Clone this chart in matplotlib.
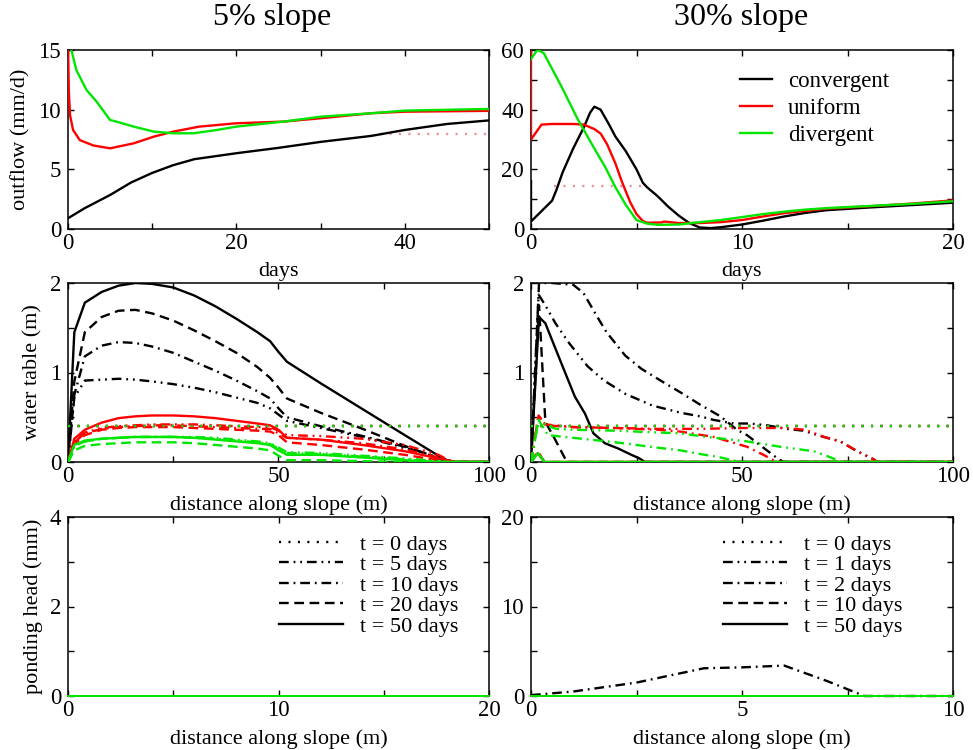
import matplotlib
matplotlib.use("Agg")
import matplotlib.pyplot as plt
from matplotlib.ticker import MultipleLocator

# ---- outflow time series ----
# 5% slope
t5_conv = [0, 2, 5, 7.5, 10, 12.5, 15, 20, 25, 30, 36, 40, 45, 50]
q5_conv = [0.9, 1.75, 2.85, 3.9, 4.7, 5.35, 5.85, 6.35, 6.8, 7.3, 7.8, 8.3, 8.8, 9.1]
t5_unif = [0, 0.1, 0.25, 0.6, 1.4, 3, 5, 7.8, 10.2, 12.5, 15.6, 20, 25.6, 30, 36, 40, 50]
q5_unif = [15.5, 11.5, 9.5, 8.3, 7.45, 7.0, 6.76, 7.18, 7.74, 8.16, 8.58, 8.86, 9.0, 9.28, 9.7, 9.83, 9.9]
t5_div = [0, 0.4, 1.0, 2.2, 3.4, 5.0, 5.8, 7.8, 10.2, 12.5, 14.9, 17.7, 20, 25.6, 30, 36, 40, 50]
q5_div = [17, 15, 13.3, 11.65, 10.67, 9.13, 8.99, 8.58, 8.16, 8.02, 8.02, 8.3, 8.58, 9.0, 9.41, 9.7, 9.92, 10.06]
t5_ref = [37, 50]
q5_ref = [8.0, 8.0]

# 30% slope
t30_conv = [0, 0, 0.5, 1.0, 1.2, 1.5, 2, 2.5, 2.8, 3.0, 3.3, 3.7, 4, 4.5, 5, 5.3, 5.5, 6, 6.5, 7, 7.5,
            8, 8.5, 9, 10, 11, 12, 13, 14, 16, 18, 20]
q30_conv = [16, 2.5, 6, 9.5, 13, 19, 27, 34, 39, 41, 40, 35, 31, 26, 20, 15.5, 14, 11, 7.5, 4.5, 2,
            0.5, 0.3, 0.6, 1.5, 2.8, 4.2, 5.4, 6.3, 7.2, 8, 8.8]
t30_unif = [0, 0, 0.1, 0.5, 1, 2, 2.5, 3, 3.3, 3.6, 4, 4.3, 4.7, 5.0, 5.3, 5.5, 6.2, 6.3, 7, 8, 9,
            10, 11, 12, 14, 16, 18, 20]
q30_unif = [60, 30, 31, 35, 35.2, 35.2, 35, 33.5, 32, 28.5, 22, 16, 9, 5, 2.7, 2.1, 2.2, 2.5, 2.0, 2.0, 2.3,
            3.0, 4.2, 5.3, 6.8, 7.6, 8.5, 9.6]
t30_div = [0, 0.3, 0.6, 1.5, 2.2, 3.0, 3.5, 4.0, 4.5, 5.0, 5.5, 6, 7, 8, 9, 10, 11, 12, 13, 14,
           16, 18, 20]
q30_div = [57, 60, 59, 47, 37, 27, 21, 14, 8, 3, 1.8, 1.4, 1.5, 2.3, 3, 4, 5, 5.8, 6.5, 7,
           7.7, 8.4, 9.3]
t30_ref = [1.1, 5.3]
q30_ref = [14.5, 14.5]

# ---- water table profiles, 5% slope (t = 0, 5, 10, 20, 50 days) ----
x5 = [0, 1.5, 4, 8, 12, 16, 20, 25, 30, 35, 40, 45, 48, 50, 52, 60, 70, 80, 88, 90, 92, 100]
x5_init = [0, 100]
h5_init = [0.4, 0.4]
h5_conv = [
    [0, 0.72, 0.91, 0.92, 0.93, 0.92, 0.9, 0.87, 0.83, 0.78, 0.72, 0.66, 0.6, 0.53, 0.46, 0.38, 0.28, 0.16, 0.04, 0, 0, 0],
    [0, 0.75, 1.18, 1.3, 1.34, 1.33, 1.29, 1.22, 1.12, 1.02, 0.91, 0.79, 0.71, 0.6, 0.5, 0.4, 0.29, 0.17, 0.05, 0, 0, 0],
    [0, 0.9, 1.45, 1.62, 1.69, 1.7, 1.66, 1.58, 1.47, 1.35, 1.22, 1.06, 0.94, 0.83, 0.71, 0.55, 0.37, 0.18, 0.04, 0, 0, 0],
    [0, 1.45, 1.78, 1.9, 1.97, 2.0, 1.99, 1.95, 1.86, 1.74, 1.6, 1.45, 1.35, 1.23, 1.12, 0.88, 0.59, 0.3, 0.07, 0.02, 0, 0],
]
h5_unif = [
    [0, 0.23, 0.33, 0.38, 0.4, 0.41, 0.42, 0.42, 0.42, 0.41, 0.4, 0.39, 0.39, 0.35, 0.3, 0.29, 0.26, 0.19, 0.08, 0.03, 0, 0],
    [0, 0.22, 0.32, 0.37, 0.39, 0.4, 0.41, 0.41, 0.4, 0.39, 0.38, 0.37, 0.37, 0.32, 0.27, 0.25, 0.21, 0.14, 0.05, 0.02, 0, 0],
    [0, 0.2, 0.3, 0.36, 0.38, 0.39, 0.39, 0.39, 0.38, 0.37, 0.36, 0.35, 0.34, 0.3, 0.22, 0.19, 0.14, 0.08, 0.02, 0, 0, 0],
    [0, 0.26, 0.36, 0.44, 0.49, 0.51, 0.52, 0.52, 0.51, 0.49, 0.46, 0.43, 0.41, 0.36, 0.27, 0.25, 0.19, 0.12, 0.04, 0.02, 0, 0],
]
h5_div = [
    [0, 0.18, 0.23, 0.26, 0.27, 0.28, 0.28, 0.28, 0.28, 0.27, 0.25, 0.23, 0.21, 0.16, 0.11, 0.1, 0.07, 0.04, 0.01, 0, 0, 0],
    [0, 0.18, 0.23, 0.26, 0.27, 0.28, 0.28, 0.28, 0.27, 0.26, 0.24, 0.22, 0.2, 0.15, 0.1, 0.09, 0.06, 0.03, 0, 0, 0, 0],
    [0, 0.13, 0.18, 0.2, 0.21, 0.22, 0.22, 0.22, 0.21, 0.19, 0.17, 0.15, 0.13, 0.07, 0.02, 0.02, 0.01, 0, 0, 0, 0, 0],
    [0, 0.19, 0.24, 0.26, 0.27, 0.28, 0.28, 0.28, 0.27, 0.25, 0.23, 0.21, 0.19, 0.13, 0.08, 0.08, 0.05, 0.02, 0, 0, 0, 0],
]

# ---- water table profiles, 30% slope (t = 0, 1, 2, 10, 50 days) ----
x30_init = [0, 100]
h30_init = [0.4, 0.4]
x30_conv = [
    [0, 1.8, 3.4, 5.8, 9.0, 13.4, 17.3, 22.4, 28.8, 35.5, 40.1, 43.3, 48, 51.9, 55.9, 60.6, 64.5, 69.4, 73.3, 77.3, 81.2, 82, 100],
    [0, 1.9, 5, 10, 12.4, 15.6, 17.9, 22.3, 26.2, 31.4, 35.7, 40.1, 44.9, 48.8, 51.2, 55.9, 58.7, 60, 100],
    [0, 1.9, 3.4, 5.5, 8.5, 100],
    [0, 1.9, 3.4, 5.6, 8.5, 10.4, 12.8, 14.8, 17.5, 20.7, 23.8, 25.7, 27, 100],
]
h30_conv = [
    [0, 1.87, 1.75, 1.55, 1.33, 1.07, 0.91, 0.76, 0.63, 0.55, 0.51, 0.47, 0.43, 0.43, 0.41, 0.37, 0.35, 0.28, 0.23, 0.12, 0.03, 0, 0],
    [0, 2.0, 2.0, 1.98, 1.89, 1.63, 1.45, 1.19, 1.04, 0.89, 0.77, 0.64, 0.51, 0.36, 0.3, 0.13, 0.03, 0, 0],
    [0, 1.75, 0.45, 0.27, 0, 0],
    [0, 1.62, 1.55, 1.29, 0.95, 0.73, 0.54, 0.32, 0.21, 0.15, 0.08, 0.04, 0, 0],
]
x30_unif = [
    [0, 1.8, 3.4, 10, 20, 30, 40, 50, 60, 65, 69.4, 73.3, 77.3, 81.2, 82, 100],
    [0, 1.8, 3.4, 10, 20, 30, 35.4, 43.3, 51.2, 55.1, 57, 58.5, 100],
    [0, 1.6, 3.2, 100],
    [0, 1.6, 3.2, 100],
]
h30_unif = [
    [0, 0.52, 0.42, 0.39, 0.38, 0.37, 0.37, 0.38, 0.38, 0.36, 0.28, 0.23, 0.12, 0.03, 0, 0],
    [0, 0.52, 0.41, 0.39, 0.38, 0.36, 0.34, 0.28, 0.17, 0.08, 0.03, 0, 0],
    [0, 0.12, 0, 0],
    [0, 0.1, 0, 0],
]
x30_div = [
    [0, 1.8, 4, 6, 10, 20, 30, 35.4, 41.7, 51.2, 59.1, 67, 70, 72.6, 74, 100],
    [0, 1.8, 4, 10, 20, 30, 35.4, 40, 45, 49.6, 100],
    [0, 1.6, 3.2, 100],
    [0, 1.6, 3.2, 100],
]
h30_div = [
    [0, 0.47, 0.4, 0.37, 0.36, 0.35, 0.33, 0.32, 0.28, 0.23, 0.17, 0.12, 0.07, 0.02, 0, 0],
    [0, 0.47, 0.3, 0.27, 0.22, 0.16, 0.13, 0.09, 0.05, 0, 0],
    [0, 0.1, 0, 0],
    [0, 0.1, 0, 0],
]

# ---- ponding head ----
xp5 = [0, 20]
xp30 = [0, 10]
xp30_t2 = [0, 1.0, 2.5, 4.1, 5.0, 6.0, 7.0, 7.9, 10]
hp30_t2 = [0.1, 0.5, 1.5, 3.1, 3.2, 3.4, 1.7, 0, 0]

labels5 = ["t = 0 days", "t = 5 days", "t = 10 days", "t = 20 days", "t = 50 days"]
labels30 = ["t = 0 days", "t = 1 days", "t = 2 days", "t = 10 days", "t = 50 days"]

# ---- style ----
plt.rcParams['font.family'] = ['Liberation Serif', 'DejaVu Serif']
plt.rcParams['font.size'] = 16
plt.rcParams['xtick.labelsize'] = 16.5
plt.rcParams['ytick.labelsize'] = 16.5
plt.rcParams['lines.scale_dashes'] = False
plt.rcParams['axes.linewidth'] = 1.1
for ax_ in ('xtick', 'ytick'):
    plt.rcParams[ax_ + '.direction'] = 'in'
    plt.rcParams[ax_ + '.major.size'] = 4
    plt.rcParams[ax_ + '.minor.size'] = 4
    plt.rcParams[ax_ + '.major.width'] = 1.0
    plt.rcParams[ax_ + '.minor.width'] = 1.0
plt.rcParams['xtick.top'] = True
plt.rcParams['ytick.right'] = True
plt.rcParams['xtick.major.pad'] = 3
plt.rcParams['ytick.major.pad'] = 5

BLACK, RED, GREEN = '#000000', '#ff0000', '#00e600'
PINK = '#e89098'
LW = 1.7
styles = [(0, (1.5, 5.3)),
          (0, (7, 3.5, 1.3, 3.5, 1.3, 3.5)),
          (0, (7, 3.5, 1.3, 3.5)),
          (0, (7, 4)),
          '-']

fig = plt.figure(figsize=(9.73, 7.5), dpi=100)
W, H = 973.0, 750.0
colx = [(68, 489), (531, 953)]
rowy = [(50, 229), (283, 462), (517, 696)]
axes = [[None, None] for _ in range(3)]
for r, (yt, yb) in enumerate(rowy):
    for c, (xl, xr) in enumerate(colx):
        axes[r][c] = fig.add_axes([xl / W, 1 - yb / H, (xr - xl) / W, (yb - yt) / H])


def ticks(ax, xmaj, xmin, ymaj, ymin):
    ax.xaxis.set_major_locator(MultipleLocator(xmaj))
    ax.xaxis.set_minor_locator(MultipleLocator(xmin))
    ax.yaxis.set_major_locator(MultipleLocator(ymaj))
    ax.yaxis.set_minor_locator(MultipleLocator(ymin))


# curves sit above the frame so lines lying on an axis stay visible
Z = 3

# outflow
ax = axes[0][0]
ax.plot(t5_ref, q5_ref, color=PINK, lw=LW, linestyle=styles[0], zorder=Z)
ax.plot(t5_conv, q5_conv, color=BLACK, lw=LW, zorder=Z)
ax.plot(t5_unif, q5_unif, color=RED, lw=LW, zorder=Z)
ax.plot(t5_div, q5_div, color=GREEN, lw=LW, zorder=Z)
ax.set_xlim(0, 50)
ax.set_ylim(0, 15)
ticks(ax, 20, 10, 5, 5)
ax.set_xlabel("days")
ax.set_ylabel("outflow (mm/d)")

ax = axes[0][1]
ax.plot(t30_ref, q30_ref, color=PINK, lw=LW, linestyle=styles[0], zorder=Z)
ax.plot(t30_conv, q30_conv, color=BLACK, lw=LW, label="convergent", zorder=Z)
ax.plot(t30_unif, q30_unif, color=RED, lw=LW, label="uniform", zorder=Z)
ax.plot(t30_div, q30_div, color=GREEN, lw=LW, label="divergent", zorder=Z)
ax.set_xlim(0, 20)
ax.set_ylim(0, 60)
ticks(ax, 10, 5, 20, 10)
ax.set_xlabel("days")
ax.legend(loc='upper left', bbox_to_anchor=(0.495, 0.885), frameon=False, fontsize=16.5,
          handlelength=1.4, handletextpad=0.7, labelspacing=0.27, borderpad=0, borderaxespad=0)

# water table
ax = axes[1][0]
for color, curves in ((BLACK, h5_conv), (RED, h5_unif), (GREEN, h5_div)):
    ax.plot(x5_init, h5_init, color=color, lw=LW, linestyle=styles[0], zorder=Z)
    for h, ls in zip(curves, styles[1:]):
        ax.plot(x5, h, color=color, lw=LW, linestyle=ls, zorder=Z)
ax.set_xlim(0, 100)
ax.set_ylim(0, 2)
ticks(ax, 50, 25, 1, 0.5)
ax.set_xlabel("distance along slope (m)")
ax.set_ylabel("water table (m)")

ax = axes[1][1]
for color, xs, hs in ((BLACK, x30_conv, h30_conv), (RED, x30_unif, h30_unif), (GREEN, x30_div, h30_div)):
    ax.plot(x30_init, h30_init, color=color, lw=LW, linestyle=styles[0], zorder=Z)
    for x, h, ls in zip(xs, hs, styles[1:]):
        ax.plot(x, h, color=color, lw=LW, linestyle=ls, zorder=Z)
ax.set_xlim(0, 100)
ax.set_ylim(0, 2)
ticks(ax, 50, 25, 1, 0.5)
ax.set_xlabel("distance along slope (m)")

# ponding head
ax = axes[2][0]
handles = []
for color in (BLACK, RED, GREEN):
    for ls, lab in zip(styles, labels5):
        ln, = ax.plot(xp5, [0, 0], color=color, lw=1.3, linestyle=ls, zorder=Z, clip_on=False)
        if color == BLACK:
            ln.set_label(lab)
            handles.append(ln)
ax.set_xlim(0, 20)
ax.set_ylim(0, 4)
ticks(ax, 10, 5, 2, 1)
ax.set_xlabel("distance along slope (m)")
ax.set_ylabel("ponding head (mm)")
leg = ax.legend(handles=handles, loc='upper left', bbox_to_anchor=(0.501, 0.905), frameon=False,
                handlelength=2.9, handletextpad=0.75, labelspacing=0.0, borderpad=0, borderaxespad=0)
for hl in leg.get_lines():
    hl.set_linewidth(LW)

ax = axes[2][1]
handles = []
for color in (BLACK, RED, GREEN):
    for i, (ls, lab) in enumerate(zip(styles, labels30)):
        if i == 2 and color == BLACK:
            ln, = ax.plot(xp30_t2, hp30_t2, color=color, lw=LW, linestyle=ls, zorder=Z, clip_on=False)
        else:
            ln, = ax.plot(xp30, [0, 0], color=color, lw=1.3, linestyle=ls, zorder=Z, clip_on=False)
        if color == BLACK:
            ln.set_label(lab)
            handles.append(ln)
ax.set_xlim(0, 10)
ax.set_ylim(0, 20)
ticks(ax, 5, 2.5, 10, 5)
ax.set_xlabel("distance along slope (m)")
leg = ax.legend(handles=handles, loc='upper left', bbox_to_anchor=(0.455, 0.905), frameon=False,
                handlelength=2.9, handletextpad=0.75, labelspacing=0.0, borderpad=0, borderaxespad=0)
for hl in leg.get_lines():
    hl.set_linewidth(LW)

# label placement
for row in axes:
    for ax in row:
        ax.xaxis.set_label_coords(0.5, -0.185)
axes[0][0].yaxis.set_label_coords(-0.09, 0.5)
axes[1][0].yaxis.set_label_coords(-0.06, 0.5)
axes[2][0].yaxis.set_label_coords(-0.06, 0.5)

fig.text(272 / W, 1 - 18 / H, "5% slope", ha='center', va='center', fontsize=23)
fig.text(741 / W, 1 - 18 / H, "30% slope", ha='center', va='center', fontsize=23)

fig.savefig("out.png", dpi=100)
